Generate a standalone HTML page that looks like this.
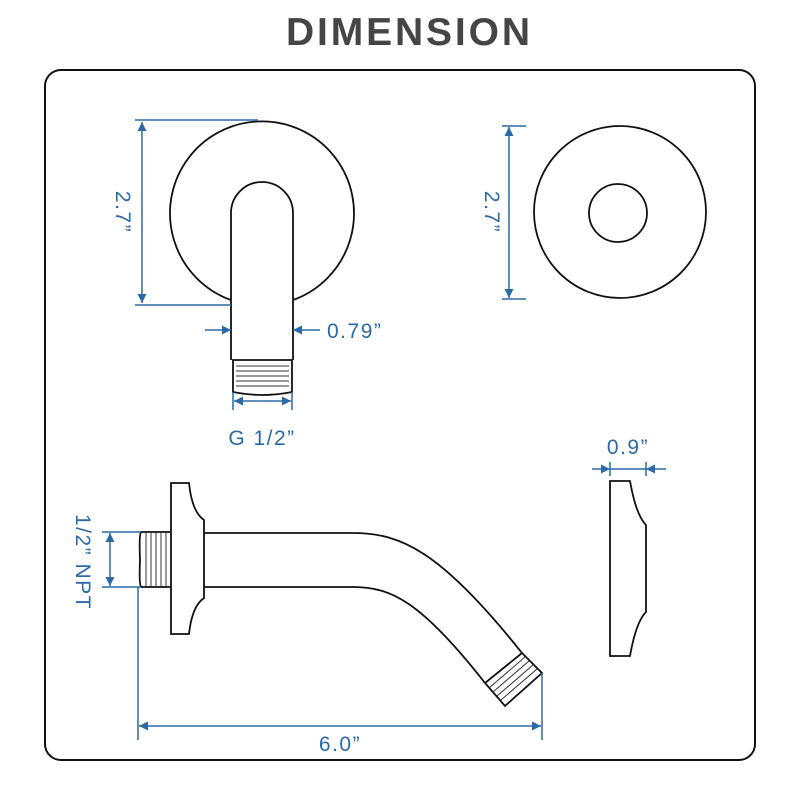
<!DOCTYPE html>
<html><head><meta charset="utf-8"><style>html,body{margin:0;padding:0;background:#fff}svg{display:block}</style></head>
<body>
<svg width="800" height="800" viewBox="0 0 800 800" xmlns="http://www.w3.org/2000/svg">
<defs>
<marker id="a" viewBox="0 0 10 10" refX="10" refY="5" markerWidth="13" markerHeight="9" orient="auto-start-reverse" markerUnits="userSpaceOnUse"><path d="M0,0 L10,5 L0,10 z" fill="#2b6aa6"/></marker>
</defs>
<text x="408" y="45" text-anchor="middle" font-family="Liberation Sans, sans-serif" font-weight="bold" font-size="39" fill="#454545" textLength="244" lengthAdjust="spacing">DIMENSION</text>
<rect x="45" y="70" width="710" height="690" rx="16" fill="none" stroke="#111" stroke-width="2"/>

<g fill="none" stroke="#111" stroke-width="1.8">
<path d="M231,300 A92,92 0 1 1 293,300"/>
<path d="M231,360 L231,213 A31,31 0 0 1 293,213 L293,360"/>
<path d="M233,360 L292,360 L292,392 Q262,398 233,392 Z"/>
<circle cx="620" cy="212" r="86"/>
<circle cx="618" cy="213" r="29"/>
<path d="M610,481 L630,481 Q636,515 646,525 L646,612 Q636,622 630,656 L610,656 Z"/>
<path d="M171,483 L189,483 Q192,512 204,520 L204,598 Q192,606 189,634 L171,634 Z"/>
<path d="M171,532 L141,532 Q139,535 140,560 Q139,584 141,587 L171,587"/>
<path d="M204,533 L353,533 C400,533 440,550 522,653"/>
<path d="M204,587 L353,587 C390,587 420,600 485,683"/>
<path d="M522,653 L542,673 L505,706 L485,683 Z"/>
</g>
<g stroke="#333" stroke-width="1">
<path d="M236,366 H289 M236,371 H289 M236,376 H289 M236,381 H289 M236,386 H289"/>
<path d="M146,533 V586 M151,533 V586 M156,533 V586 M161,533 V586 M166,533 V586"/>
<path d="M525,657 L489,688 M529,661 L493,692 M533,665 L497,696 M537,669 L501,700"/>
</g>

<g stroke="#2b6aa6" stroke-width="1.5" fill="none">
<path d="M135,120 H258 M135,305 H231"/>
<path d="M142,122 V303" marker-start="url(#a)" marker-end="url(#a)"/>
<path d="M205,330 H231" marker-end="url(#a)"/>
<path d="M320,330 H293" marker-end="url(#a)"/>
<path d="M233,392 V410 M292,392 V410"/>
<path d="M234,401 H291" marker-start="url(#a)" marker-end="url(#a)"/>
<path d="M502,126 H526 M502,299 H526"/>
<path d="M509,127 V298" marker-start="url(#a)" marker-end="url(#a)"/>
<path d="M610,462 V476 M646,462 V476 M610,469 H646"/>
<path d="M592,469 H610" marker-end="url(#a)"/>
<path d="M666,469 H646" marker-end="url(#a)"/>
<path d="M102,532 H141 M102,587 H141"/>
<path d="M110,533 V586" marker-start="url(#a)" marker-end="url(#a)"/>
<path d="M138,587 V740 M542,673 V740"/>
<path d="M139,726 H541" marker-start="url(#a)" marker-end="url(#a)"/>
</g>

<g font-family="Liberation Sans, sans-serif" font-size="21" fill="#2b6aa6" letter-spacing="1.5">
<text x="0" y="0" transform="translate(116,212) rotate(90)" text-anchor="middle">2.7”</text>
<text x="327" y="338">0.79”</text>
<text x="262" y="445" text-anchor="middle">G 1/2”</text>
<text x="0" y="0" transform="translate(485,212) rotate(90)" text-anchor="middle">2.7”</text>
<text x="628" y="454" text-anchor="middle">0.9”</text>
<text x="0" y="0" transform="translate(76,562) rotate(90)" text-anchor="middle">1/2” NPT</text>
<text x="340" y="751" text-anchor="middle">6.0”</text>
</g>
</svg>
</body></html>
